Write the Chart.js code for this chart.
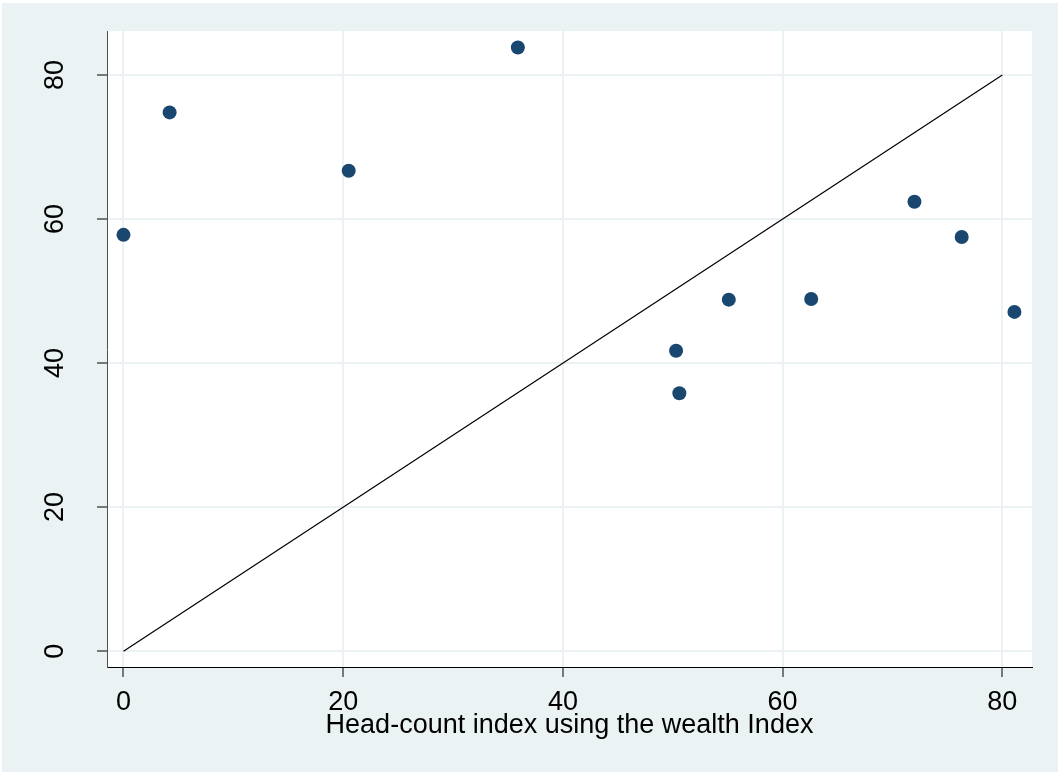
<!DOCTYPE html>
<html>
<head>
<meta charset="utf-8">
<script src="https://cdn.jsdelivr.net/npm/chart.js@4.4.0/dist/chart.umd.min.js"></script>
<style>
  html, body { margin: 0; padding: 0; background: #ffffff; }
  #wrap { width: 1058px; height: 772px; }
</style>
</head>
<body>
<div id="wrap"><canvas id="chart"></canvas></div>
<script>
// head-count index (wealth) vs. second index, one point per group
var wealthIdx = [0, 4.2, 20.5, 35.9, 50.3, 50.6, 55.1, 62.6, 72.0, 76.3, 81.1];
var otherIdx  = [57.8, 74.8, 66.7, 83.8, 41.7, 35.8, 48.8, 48.9, 62.4, 57.5, 47.1];

// 45 degree reference line
var lineX = [0, 80];
var lineY = [0, 80];

var xTicks = [0, 20, 40, 60, 80];
var yTicks = [0, 20, 40, 60, 80];
var xTitle = "Head-count index using the wealth Index";

var bg = "#eaf2f3";
var navy = "#1a476f";

function toPoints(xs, ys) {
    return xs.map(function (x, i) { return { x: x, y: ys[i] }; });
}

var backdrop = {
    id: "backdrop",
    beforeDraw: function (chart) {
        var ctx = chart.ctx;
        var a = chart.chartArea;
        ctx.save();
        ctx.fillStyle = "#ffffff";
        ctx.fillRect(0, 0, chart.width, chart.height);
        ctx.fillStyle = bg;
        ctx.fillRect(2, 3, chart.width - 2, chart.height - 3);
        ctx.fillStyle = "#ffffff";
        ctx.fillRect(a.left, a.top, a.right - a.left, a.bottom - a.top);
        ctx.restore();
    }
};

Chart.defaults.font.family = "'Liberation Sans', Arial, sans-serif";
Chart.defaults.color = "#000000";

new Chart(document.getElementById("chart"), {
    type: "scatter",
    data: {
        datasets: [{
            data: toPoints(wealthIdx, otherIdx),
            backgroundColor: navy,
            borderColor: navy,
            borderWidth: 0,
            pointRadius: 7,
            pointHoverRadius: 7
        }, {
            type: "line",
            data: toPoints(lineX, lineY),
            borderColor: "#000000",
            borderWidth: 1.2,
            pointRadius: 0,
            fill: false
        }]
    },
    options: {
        responsive: true,
        maintainAspectRatio: false,
        animation: false,
        layout: { padding: { top: 31, right: 26, left: 0, bottom: 0 } },
        plugins: {
            legend: { display: false },
            tooltip: { enabled: false }
        },
        scales: {
            x: {
                type: "linear",
                min: -1.5,
                max: 82.7,
                afterBuildTicks: function (scale) {
                    scale.ticks = xTicks.map(function (v) { return { value: v }; });
                },
                afterFit: function (scale) {
                    scale.height = 105;
                    scale.paddingLeft = 0;
                    scale.paddingRight = 0;
                },
                grid: {
                    color: bg,
                    lineWidth: 2,
                    tickColor: "#000000",
                    tickWidth: 1,
                    tickLength: 10
                },
                border: { color: "#000000", width: 1 },
                ticks: {
                    font: { size: 27 },
                    padding: 9,
                    maxRotation: 0
                },
                title: {
                    display: true,
                    text: xTitle,
                    font: { size: 27 },
                    padding: { top: 0, bottom: 30 }
                }
            },
            y: {
                type: "linear",
                min: -2.2,
                max: 86.1,
                afterBuildTicks: function (scale) {
                    scale.ticks = yTicks.map(function (v) { return { value: v }; });
                },
                afterFit: function (scale) {
                    scale.width = 107;
                    scale.paddingTop = 0;
                    scale.paddingBottom = 0;
                },
                grid: {
                    color: bg,
                    lineWidth: 2,
                    tickColor: "#000000",
                    tickWidth: 1,
                    tickLength: 10
                },
                border: { color: "#505050", width: 1 },
                ticks: {
                    font: { size: 27 },
                    padding: 26,
                    minRotation: 90,
                    maxRotation: 90,
                    crossAlign: "center"
                }
            }
        }
    },
    plugins: [backdrop]
});
</script>
</body>
</html>
